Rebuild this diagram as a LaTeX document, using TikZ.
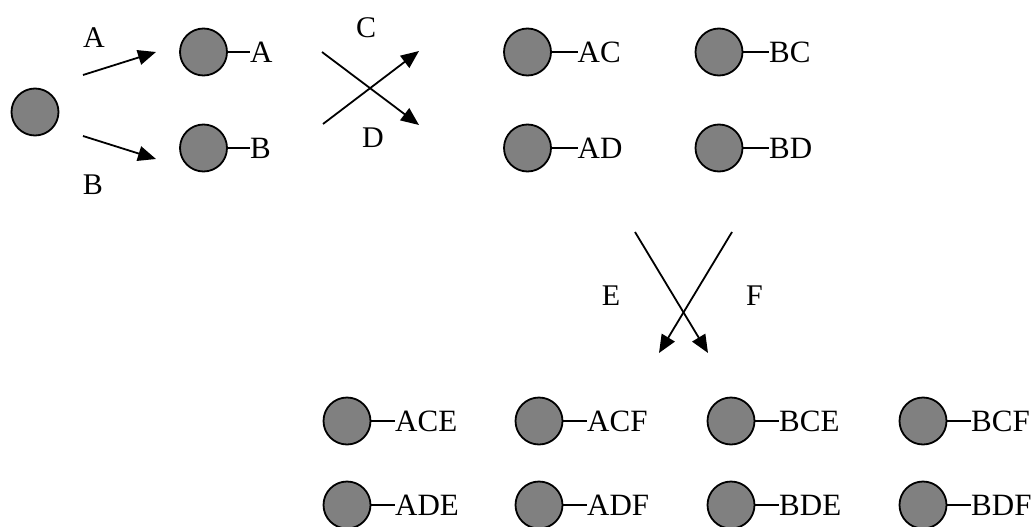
\documentclass[tikz,border=0pt]{standalone}
\usepackage{fontspec}
\setmainfont{Liberation Serif}
\usetikzlibrary{arrows.meta}
\begin{document}
\begin{tikzpicture}[x=1pt,y=-1pt,
  ball/.style={circle,draw=black,line width=1.8pt,fill={rgb,255:red,128;green,128;blue,128},minimum size=47pt,inner sep=0pt},
  tag/.style={anchor=west,inner sep=0pt,font=\fontsize{31}{35}\selectfont},
  lbl/.style={inner sep=0pt,font=\fontsize{30}{34}\selectfont},
  stem/.style={line width=1.8pt},
  arr/.style={line width=1.8pt,-{Triangle[length=18pt,width=15pt]}}]
\useasboundingbox (0,0) rectangle (1033,527);

% root and first split
\node[ball] (r) at (35,112) {};
\node[ball] (a) at (203.5,52) {};
\node[ball] (b) at (203.5,148) {};
\node[tag] (ta) at (250,52) {A};
\node[tag] (tb) at (250,148) {B};
\draw[stem] (a.east) -- (ta.west);
\draw[stem] (b.east) -- (tb.west);

\coordinate (a0) at (83,75);  \coordinate (a1) at (156,52);
\coordinate (b0) at (83,136); \coordinate (b1) at (156,159);
\draw[arr] (a0) -- (a1);
\draw[arr] (b0) -- (b1);
\node[lbl] (la) at (94,38) {A};
\node[lbl] (lb) at (93,185) {B};

% second split
\coordinate (c0) at (323,124); \coordinate (c1) at (419,51);
\coordinate (d0) at (322,52);  \coordinate (d1) at (419,125);
\draw[arr] (c0) -- (c1);
\draw[arr] (d0) -- (d1);
\node[lbl] (lc) at (366,28) {C};
\node[lbl] (ld) at (373,138) {D};

\foreach \n/\x/\y in {AC/527.5/52, BC/719/52, AD/527.5/148, BD/719/148}{
  \node[ball] (n\n) at (\x,\y) {};
  \node[tag] (t\n) at (\x+50,\y) {\n};
  \draw[stem] (n\n.east) -- (t\n.west);
}

% third split
\coordinate (e0) at (635,232); \coordinate (e1) at (708,353);
\coordinate (f0) at (732,232); \coordinate (f1) at (659,353);
\draw[arr] (e0) -- (e1);
\draw[arr] (f0) -- (f1);
\node[lbl] (le) at (611,296) {E};
\node[lbl] (lf) at (754.5,296) {F};

\foreach \n/\x/\y in {ACE/347/421, ACF/539/421, BCE/731/421, BCF/923/421,
                      ADE/347/505, ADF/539/505, BDE/731/505, BDF/923/505}{
  \node[ball] (n\n) at (\x,\y) {};
  \node[tag] (t\n) at (\x+48,\y) {\n};
  \draw[stem] (n\n.east) -- (t\n.west);
}
\end{tikzpicture}
\end{document}
